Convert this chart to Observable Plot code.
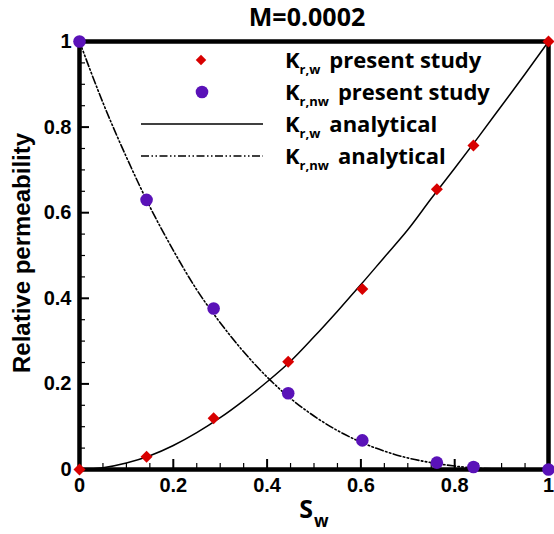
<!DOCTYPE html>
<html><head><meta charset="utf-8">
<script src="https://cdn.jsdelivr.net/npm/d3@7"></script>
<script src="https://cdn.jsdelivr.net/npm/@observablehq/plot@0.6"></script>
<style>body{margin:0;background:#fff}#chart{width:554px;height:534px}</style>
</head><body><div id="chart"></div>
<script>
// ---- data ----
const titleText = "M=0.0002";
const xLabelMain = "S", xLabelSub = "w";
const yLabelText = "Relative permeability";

// simulation points ("present study")
const swStudy    = [0, 0.143, 0.286, 0.445, 0.603, 0.762, 0.84, 1];
const krwStudy   = [0, 0.03, 0.12, 0.252, 0.422, 0.655, 0.757, 1];
const krnwStudy  = [1, 0.63, 0.376, 0.178, 0.068, 0.016, 0.006, 0];

// analytical curves
const swCurve   = [0, 0.05, 0.1, 0.15, 0.2, 0.25, 0.3, 0.35, 0.4, 0.45, 0.5, 0.55, 0.6, 0.65, 0.7, 0.75, 0.8, 0.85, 0.9, 0.95, 1];
const krwCurve  = [0, 0.004, 0.015, 0.032, 0.056, 0.086, 0.121, 0.161, 0.205, 0.253, 0.31, 0.37, 0.432, 0.496, 0.56, 0.633, 0.704, 0.776, 0.85, 0.924, 1];
const krnwCurve = [1, 0.857, 0.73, 0.614, 0.512, 0.42, 0.343, 0.275, 0.216, 0.166, 0.125, 0.091, 0.064, 0.043, 0.027, 0.016, 0.008, 0.003, 0.001, 0, 0];

const majorTicks = [0, 0.2, 0.4, 0.6, 0.8, 1];
const minorTicks = [0.05, 0.1, 0.15, 0.25, 0.3, 0.35, 0.45, 0.5, 0.55, 0.65, 0.7, 0.75, 0.85, 0.9, 0.95];

const legendSubs = ["r,w", "r,nw", "r,w", "r,nw"];
const legendRest = ["present study", "present study", "analytical", "analytical"];

const redColor = "#d80000", purpleColor = "#5a12b8";
const dashDot = "8,2.5,1.5,2.5,1.5,2.5";

// ---- tables ----
const studyW  = swStudy.map((s, i) => ({s, k: krwStudy[i]}));
const studyNW = swStudy.map((s, i) => ({s, k: krnwStudy[i]}));
const curveW  = swCurve.map((s, i) => ({s, k: krwCurve[i]}));
const curveNW = swCurve.map((s, i) => ({s, k: krnwCurve[i]}));

const W = 554, H = 534, mL = 79, mR = 6, mT = 41, mB = 65;
const innerW = W - mL - mR, innerH = H - mT - mB;
const fmt = d => (d === 0 || d === 1) ? String(d) : d.toFixed(1);

const chart = Plot.plot({
  width: W, height: H,
  marginLeft: mL, marginRight: mR, marginTop: mT, marginBottom: mB,
  x: {domain: [0, 1]},
  y: {domain: [0, 1]},
  style: {background: "#fff", color: "#000"},
  marks: [
    Plot.ruleX(minorTicks, {x: d => d, insetTop: innerH - 6, stroke: "#000", strokeWidth: 1.2}),
    Plot.ruleX(majorTicks, {x: d => d, insetTop: innerH - 10, stroke: "#000", strokeWidth: 2}),
    Plot.ruleY(minorTicks, {y: d => d, insetRight: innerW - 6, stroke: "#000", strokeWidth: 1.2}),
    Plot.ruleY(majorTicks, {y: d => d, insetRight: innerW - 10, stroke: "#000", strokeWidth: 2}),
    Plot.line(curveW, {x: "s", y: "k", stroke: "#000", strokeWidth: 1.5, curve: "monotone-x"}),
    Plot.line(curveNW, {x: "s", y: "k", stroke: "#000", strokeWidth: 1.6, strokeDasharray: dashDot, curve: "monotone-x"}),
    Plot.frame({stroke: "#000", strokeWidth: 4.5}),
    Plot.axisX(majorTicks, {tickSize: 0, tickPadding: 8, tickFormat: fmt, fontSize: 20, fontWeight: "bold", fontFamily: "Liberation Sans", label: null}),
    Plot.axisY(majorTicks, {tickSize: 0, tickPadding: 8, tickFormat: fmt, fontSize: 20, fontWeight: "bold", fontFamily: "Liberation Sans", label: null}),
    Plot.dot(studyW, {x: "s", y: "k", symbol: "diamond2", r: 5.4, fill: redColor}),
    Plot.dot(studyNW, {x: "s", y: "k", symbol: "circle", r: 6.3, fill: purpleColor})
  ]
});
document.getElementById("chart").append(chart);

// ---- texts and legend ----
const svg = d3.select(chart);
const font = "'Open Sans', sans-serif";

svg.append("text").attr("x", 307).attr("y", 26)
  .attr("text-anchor", "middle").attr("font-family", font).attr("font-weight", 700)
  .attr("font-size", 25).text(titleText);

const xl = svg.append("text").attr("x", 314).attr("y", 518)
  .attr("text-anchor", "middle").attr("font-family", font).attr("font-weight", 700).attr("font-size", 25);
xl.append("tspan").text(xLabelMain);
xl.append("tspan").attr("font-size", 17).attr("dy", 9).attr("dx", 1).text(xLabelSub);

svg.append("text").attr("transform", "translate(30,253) rotate(-90)")
  .attr("text-anchor", "middle").attr("font-family", "Liberation Sans").attr("font-weight", "bold")
  .attr("font-size", 24).text(yLabelText);

const lg = svg.append("g");
const rowY = [60, 92, 124, 156];
lg.append("path").attr("d", d3.symbol(d3.symbolDiamond2, 70)()).attr("transform", `translate(201,${rowY[0]})`).attr("fill", redColor);
lg.append("circle").attr("cx", 202).attr("cy", rowY[1]).attr("r", 6.3).attr("fill", purpleColor);
lg.append("line").attr("x1", 141).attr("x2", 263).attr("y1", rowY[2]).attr("y2", rowY[2]).attr("stroke", "#000").attr("stroke-width", 1.5);
lg.append("line").attr("x1", 141).attr("x2", 263).attr("y1", rowY[3]).attr("y2", rowY[3]).attr("stroke", "#000").attr("stroke-width", 1.6).attr("stroke-dasharray", dashDot);
legendSubs.forEach((sub, i) => {
  const t = lg.append("text").attr("x", 285).attr("y", rowY[i] + 8)
    .attr("text-anchor", "start")
    .attr("font-family", font).attr("font-weight", 700).attr("font-size", 22);
  t.append("tspan").text("K");
  t.append("tspan").attr("font-size", 13).attr("dy", 6).text(sub);
  t.append("tspan").attr("dy", -6).attr("dx", 9).text(legendRest[i]);
});
</script>
</body></html>
